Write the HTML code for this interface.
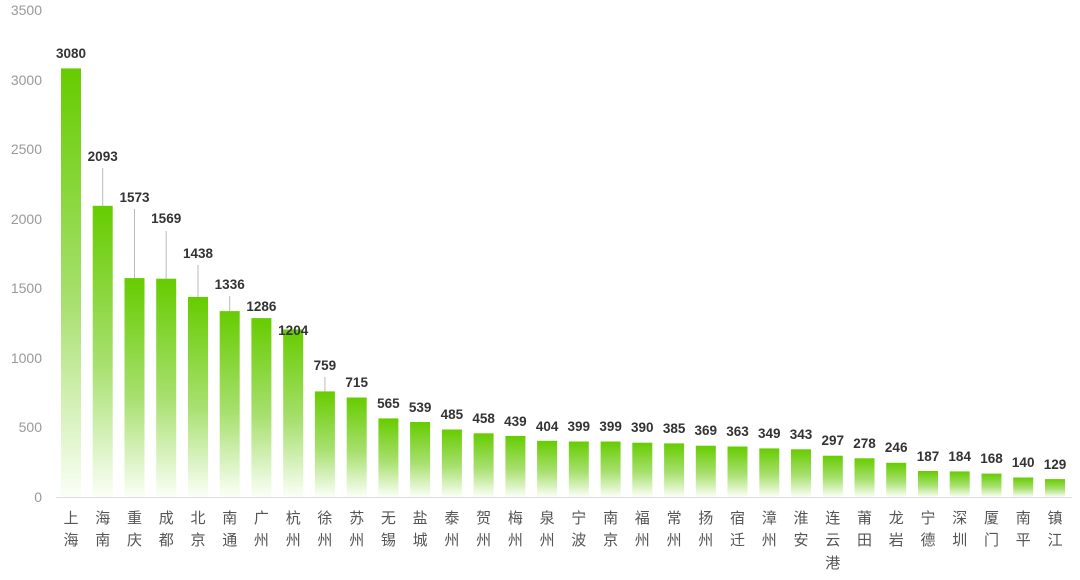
<!DOCTYPE html>
<html><head><meta charset="utf-8"><style>
html,body{margin:0;padding:0;background:#fff;width:1080px;height:580px;overflow:hidden}
svg{display:block}
.y{font:14px "Liberation Sans",sans-serif;fill:#999;text-anchor:end}
.v{font:bold 13.5px "Liberation Sans",sans-serif;fill:#333;text-anchor:middle}
.c{font:15px "Liberation Sans","Noto Sans CJK SC",sans-serif;fill:#555;text-anchor:middle}
</style></head><body>
<svg width="1080" height="580" xmlns="http://www.w3.org/2000/svg">
<defs><linearGradient id="g" x1="0" y1="0" x2="0" y2="1"><stop offset="0" stop-color="#66cc00"/><stop offset="0.55" stop-color="#a8e070"/><stop offset="1" stop-color="#fbfff7"/></linearGradient></defs>
<g class="y">
<text x="42" y="15">3500</text><text x="42" y="85">3000</text><text x="42" y="154">2500</text><text x="42" y="224">2000</text><text x="42" y="293">1500</text><text x="42" y="363">1000</text><text x="42" y="432">500</text><text x="42" y="502">0</text>
</g>
<line x1="56" y1="497.5" x2="1072" y2="497.5" stroke="#ddd"/>
<g fill="url(#g)">
<rect x="61" y="68.4" width="20" height="428.6"/>
<rect x="92.7" y="205.8" width="20" height="291.2"/>
<rect x="124.5" y="278.1" width="20" height="218.9"/>
<rect x="156.2" y="278.7" width="20" height="218.3"/>
<rect x="188" y="296.9" width="20" height="200.1"/>
<rect x="219.7" y="311.1" width="20" height="185.9"/>
<rect x="251.4" y="318.1" width="20" height="178.9"/>
<rect x="283.2" y="329.5" width="20" height="167.5"/>
<rect x="314.9" y="391.4" width="20" height="105.6"/>
<rect x="346.7" y="397.5" width="20" height="99.5"/>
<rect x="378.4" y="418.4" width="20" height="78.6"/>
<rect x="410.1" y="422" width="20" height="75"/>
<rect x="441.9" y="429.5" width="20" height="67.5"/>
<rect x="473.6" y="433.3" width="20" height="63.7"/>
<rect x="505.4" y="435.9" width="20" height="61.1"/>
<rect x="537.1" y="440.8" width="20" height="56.2"/>
<rect x="568.8" y="441.5" width="20" height="55.5"/>
<rect x="600.6" y="441.5" width="20" height="55.5"/>
<rect x="632.3" y="442.7" width="20" height="54.3"/>
<rect x="664.1" y="443.4" width="20" height="53.6"/>
<rect x="695.8" y="445.7" width="20" height="51.3"/>
<rect x="727.5" y="446.5" width="20" height="50.5"/>
<rect x="759.3" y="448.4" width="20" height="48.6"/>
<rect x="791" y="449.3" width="20" height="47.7"/>
<rect x="822.8" y="455.7" width="20" height="41.3"/>
<rect x="854.5" y="458.3" width="20" height="38.7"/>
<rect x="886.2" y="462.8" width="20" height="34.2"/>
<rect x="918" y="471" width="20" height="26"/>
<rect x="949.7" y="471.4" width="20" height="25.6"/>
<rect x="981.5" y="473.6" width="20" height="23.4"/>
<rect x="1013.2" y="477.5" width="20" height="19.5"/>
<rect x="1045" y="479.1" width="20" height="17.9"/>
</g>
<g stroke="#bbb" stroke-width="1">
<line x1="102.7" y1="168" x2="102.7" y2="205.8"/>
<line x1="134.5" y1="209" x2="134.5" y2="278.1"/>
<line x1="166.2" y1="231" x2="166.2" y2="278.7"/>
<line x1="198" y1="265" x2="198" y2="296.9"/>
<line x1="229.7" y1="296" x2="229.7" y2="311.1"/>
<line x1="324.9" y1="377" x2="324.9" y2="391.4"/>
</g>
<g class="v">
<text x="71" y="58">3080</text>
<text x="102.7" y="161">2093</text>
<text x="134.5" y="202">1573</text>
<text x="166.2" y="223">1569</text>
<text x="198" y="258">1438</text>
<text x="229.7" y="289">1336</text>
<text x="261.4" y="311">1286</text>
<text x="293.2" y="335">1204</text>
<text x="324.9" y="370">759</text>
<text x="356.7" y="387">715</text>
<text x="388.4" y="408">565</text>
<text x="420.1" y="412">539</text>
<text x="451.9" y="419">485</text>
<text x="483.6" y="423">458</text>
<text x="515.4" y="426">439</text>
<text x="547.1" y="431">404</text>
<text x="578.8" y="431">399</text>
<text x="610.6" y="431">399</text>
<text x="642.3" y="432">390</text>
<text x="674.1" y="433">385</text>
<text x="705.8" y="435">369</text>
<text x="737.5" y="436">363</text>
<text x="769.3" y="438">349</text>
<text x="801" y="439">343</text>
<text x="832.8" y="445">297</text>
<text x="864.5" y="448">278</text>
<text x="896.2" y="452">246</text>
<text x="928" y="461">187</text>
<text x="959.7" y="461">184</text>
<text x="991.5" y="463">168</text>
<text x="1023.2" y="467">140</text>
<text x="1055" y="469">129</text>
</g>
<g class="c">
<text x="71" y="523">上</text><text x="71" y="545">海</text>
<text x="102.7" y="523">海</text><text x="102.7" y="545">南</text>
<text x="134.5" y="523">重</text><text x="134.5" y="545">庆</text>
<text x="166.2" y="523">成</text><text x="166.2" y="545">都</text>
<text x="198" y="523">北</text><text x="198" y="545">京</text>
<text x="229.7" y="523">南</text><text x="229.7" y="545">通</text>
<text x="261.4" y="523">广</text><text x="261.4" y="545">州</text>
<text x="293.2" y="523">杭</text><text x="293.2" y="545">州</text>
<text x="324.9" y="523">徐</text><text x="324.9" y="545">州</text>
<text x="356.7" y="523">苏</text><text x="356.7" y="545">州</text>
<text x="388.4" y="523">无</text><text x="388.4" y="545">锡</text>
<text x="420.1" y="523">盐</text><text x="420.1" y="545">城</text>
<text x="451.9" y="523">泰</text><text x="451.9" y="545">州</text>
<text x="483.6" y="523">贺</text><text x="483.6" y="545">州</text>
<text x="515.4" y="523">梅</text><text x="515.4" y="545">州</text>
<text x="547.1" y="523">泉</text><text x="547.1" y="545">州</text>
<text x="578.8" y="523">宁</text><text x="578.8" y="545">波</text>
<text x="610.6" y="523">南</text><text x="610.6" y="545">京</text>
<text x="642.3" y="523">福</text><text x="642.3" y="545">州</text>
<text x="674.1" y="523">常</text><text x="674.1" y="545">州</text>
<text x="705.8" y="523">扬</text><text x="705.8" y="545">州</text>
<text x="737.5" y="523">宿</text><text x="737.5" y="545">迁</text>
<text x="769.3" y="523">漳</text><text x="769.3" y="545">州</text>
<text x="801" y="523">淮</text><text x="801" y="545">安</text>
<text x="832.8" y="523">连</text><text x="832.8" y="545">云</text><text x="832.8" y="568">港</text>
<text x="864.5" y="523">莆</text><text x="864.5" y="545">田</text>
<text x="896.2" y="523">龙</text><text x="896.2" y="545">岩</text>
<text x="928" y="523">宁</text><text x="928" y="545">德</text>
<text x="959.7" y="523">深</text><text x="959.7" y="545">圳</text>
<text x="991.5" y="523">厦</text><text x="991.5" y="545">门</text>
<text x="1023.2" y="523">南</text><text x="1023.2" y="545">平</text>
<text x="1055" y="523">镇</text><text x="1055" y="545">江</text>
</g>
</svg>
</body></html>
